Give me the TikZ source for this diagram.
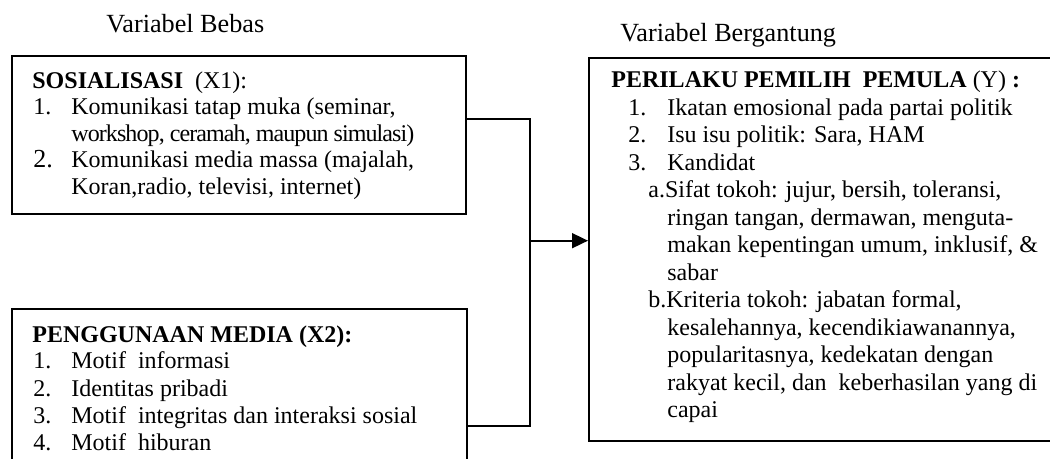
\documentclass[tikz,border=0pt]{standalone}
\usepackage{fontspec}
\usepackage{graphicx}
\setmainfont{Liberation Serif}
\usetikzlibrary{fit,arrows.meta}
\tikzset{
  box/.style={draw, line width=1pt, inner sep=0pt},
  conn/.style={line width=0.9pt},
  ln/.style={anchor=base west, inner sep=0pt, font=\fontsize{12pt}{14pt}\selectfont},
  hd/.style={anchor=base west, inner sep=0pt, font=\fontsize{12pt}{14pt}\selectfont\bfseries},
  lab/.style={anchor=base west, inner sep=0pt, font=\fontsize{13.1pt}{15pt}\selectfont},
  tip/.style={-{Triangle[length=8pt,width=7.5pt]}},
}
\begin{document}
\begin{tikzpicture}[x=0.5pt,y=-0.5pt]
\useasboundingbox (0,0) rectangle (1050,459);

% boxes
\node[box, fit={(12,56) (466,214)}] (b1) {};
\node[box, fit={(12,309) (467,520)}] (b2) {};
\node[box, fit={(589,57.7) (1080,441)}] (b3) {};

% labels above
\node[lab] (lb1) at (106,33) {Variabel Bebas};
\node[lab] (lb2) at (620,41.7) {Variabel Bergantung};

% box 1 text
\node[hd] (h1) at (32,89) {SOSIALISASI\ \ {\mdseries (X1):}};
\node[ln] (n11) at (33,115) {1.};
\node[ln] (t11) at (71,115) {Komunikasi tatap muka (seminar,};
\node[ln] (t12) at (71,142) {\addfontfeatures{LetterSpace=-3.8}workshop, ceramah, maupun simulasi)};
\node[ln, font=\fontsize{13pt}{15pt}\selectfont] (n12) at (33,168) {2.};
\node[ln] (t13) at (71,168) {Komunikasi media massa (majalah,};
\node[ln] (t14) at (71,195) {Koran,radio, televisi, internet)};

% box 2 text
\node[hd] (h2) at (32,343) {PENGGUNAAN MEDIA (X2):};
\node[ln] (n21) at (33,369) {1.};
\node[ln] (t21) at (71,369) {Motif\ \ informasi};
\node[ln] (n22) at (33,397) {2.};
\node[ln] (t22) at (71,397) {Identitas pribadi};
\node[ln] (n23) at (33,424) {3.};
\node[ln] (t23) at (71,424) {Motif\ \ integritas dan interaksi sosial};
\node[ln] (n24) at (33,451) {4.};
\node[ln] (t24) at (71,451) {Motif\ \ hiburan};

% box 3 text
\node[hd] (h3) at (611,88) {PERILAKU PEMILIH\ \ PEMULA {\mdseries (Y)} :};
\node[ln] (n31) at (628,115.5) {1.};
\node[ln] (t31) at (667,115.5) {Ikatan emosional pada partai politik};
\node[ln] (n32) at (628,143) {2.};
\node[ln] (t32) at (667,143) {Isu isu politik: Sara, HAM};
\node[ln] (n33) at (628,170.5) {3.};
\node[ln] (t33) at (667,170.5) {Kandidat};
\node[ln] (t34) at (648,198) {a.Sifat tokoh: jujur, bersih, toleransi,};
\node[ln] (t35) at (667,225.5) {ringan tangan, dermawan, menguta-};
\node[ln] (t36) at (667,253) {makan kepentingan umum, inklusif, \&};
\node[ln] (t37) at (667,280.5) {sabar};
\node[ln] (t38) at (648,308) {b.Kriteria tokoh: jabatan formal,};
\node[ln] (t39) at (667,335.5) {kesalehannya, kecendikiawanannya,};
\node[ln] (t40) at (667,363) {popularitasnya, kedekatan dengan};
\node[ln] (t41) at (667,390.5) {rakyat kecil, dan\ \ keberhasilan yang di};
\node[ln] (t42) at (667,418) {capai};

% connectors
\coordinate (j1) at (530,118.7);
\coordinate (j2) at (530,426);
\coordinate (ja) at (530,240.7);
\draw[conn] (b1.east |- j1) -- (j1) -- (j2) -- (b2.east |- j2);
\draw[conn, tip] (ja) -- (ja -| b3.west);
\end{tikzpicture}
\end{document}
